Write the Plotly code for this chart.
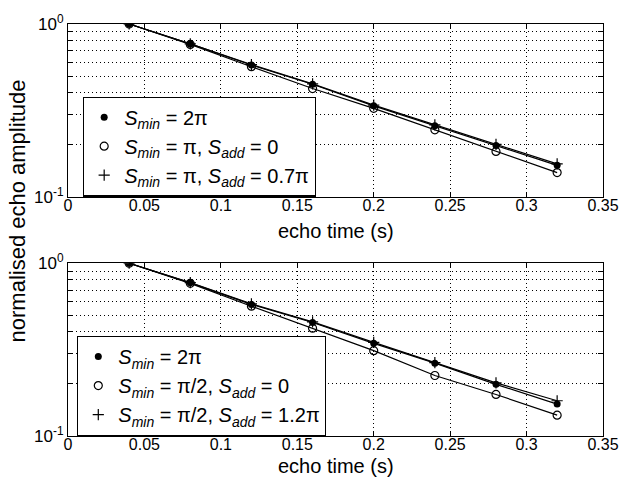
import plotly.graph_objects as go
from plotly.subplots import make_subplots

echo_time = [0.04, 0.08, 0.12, 0.16, 0.20, 0.24, 0.28, 0.32]

# top panel
top_s2pi = [1.0, 0.767, 0.579, 0.448, 0.336, 0.258, 0.198, 0.152]
top_spi_0 = [1.0, 0.762, 0.566, 0.423, 0.325, 0.244, 0.183, 0.138]
top_spi_07 = [1.0, 0.768, 0.582, 0.450, 0.339, 0.261, 0.201, 0.155]
# bottom panel
bot_s2pi = [1.0, 0.770, 0.578, 0.454, 0.344, 0.264, 0.199, 0.153]
bot_spi2_0 = [1.0, 0.765, 0.564, 0.421, 0.312, 0.224, 0.174, 0.132]
bot_spi2_12 = [1.0, 0.772, 0.582, 0.458, 0.348, 0.266, 0.203, 0.160]

top_names = ["<i>S<sub>min</sub></i> = 2π",
             "<i>S<sub>min</sub></i> = π, <i>S<sub>add</sub></i> = 0",
             "<i>S<sub>min</sub></i> = π, <i>S<sub>add</sub></i> = 0.7π"]
bot_names = ["<i>S<sub>min</sub></i> = 2π",
             "<i>S<sub>min</sub></i> = π/2, <i>S<sub>add</sub></i> = 0",
             "<i>S<sub>min</sub></i> = π/2, <i>S<sub>add</sub></i> = 1.2π"]

x_ticks = [0, 0.05, 0.1, 0.15, 0.2, 0.25, 0.3, 0.35]
x_ticktext = ["0", "0.05", "0.1", "0.15", "0.2", "0.25", "0.3", "0.35"]
y_ticks = [0.1, 0.2, 0.3, 0.4, 0.5, 0.6, 0.7, 0.8, 0.9, 1.0]
y_ticktext = ["10<sup>-1</sup>", "", "", "", "", "", "", "", "", "10<sup>0</sup>"]

FONT = "Liberation Sans, Arial, Helvetica, sans-serif"
fig = make_subplots(rows=2, cols=1, vertical_spacing=0.1614)

markers = [
    dict(symbol="circle", size=7, color="black"),
    dict(symbol="circle-open", size=8, color="black", line=dict(width=1.2, color="black")),
    dict(symbol="cross-thin-open", size=8, color="black", line=dict(width=1.2, color="black")),
]

def add_panel(row, series, names, legend):
    for ys in series:
        fig.add_trace(go.Scatter(x=echo_time, y=ys, mode="lines",
                                 line=dict(color="black", width=1.2),
                                 showlegend=False, hoverinfo="skip"), row=row, col=1)
    for ys, nm, mk in zip(series, names, markers):
        fig.add_trace(go.Scatter(x=echo_time, y=ys, mode="markers", marker=mk,
                                 name=nm, legend=legend), row=row, col=1)

add_panel(1, [top_s2pi, top_spi_0, top_spi_07], top_names, "legend")
add_panel(2, [bot_s2pi, bot_spi2_0, bot_spi2_12], bot_names, "legend2")

axis_common = dict(showline=True, linecolor="black", linewidth=1.2, mirror="ticks",
                   ticks="inside", ticklen=5, tickcolor="black",
                   showgrid=True, gridcolor="black", griddash="1px,3px", gridwidth=1,
                   zeroline=False)

for r in (1, 2):
    fig.update_xaxes(range=[0, 0.35], tickvals=x_ticks, ticktext=x_ticktext,
                     ticklabelstandoff=-6, tickfont=dict(family=FONT, size=16, color="black"),
                     row=r, col=1, **axis_common)
    fig.update_yaxes(type="log", range=[-1, 0], tickvals=y_ticks, ticktext=y_ticktext,
                     tickfont=dict(family=FONT, size=17, color="black"),
                     row=r, col=1, **axis_common)

legend_style = dict(bgcolor="white", bordercolor="black", borderwidth=1.2,
                    font=dict(family=FONT, size=20, color="black"),
                    xanchor="left", yanchor="top", tracegroupgap=0)

title_font = dict(family=FONT, size=20, color="black")
fig.update_layout(
    width=634, height=479,
    margin=dict(l=68, r=31, t=21, b=43),
    paper_bgcolor="white", plot_bgcolor="white",
    font=dict(family=FONT, color="black"),
    legend=dict(x=0.028, y=0.824, **legend_style),
    legend2=dict(x=0.017, y=0.243, **legend_style),
    annotations=[
        dict(text="normalised echo amplitude", textangle=-90,
             xref="paper", yref="paper", x=-0.0953, y=0.545,
             xanchor="center", yanchor="middle", showarrow=False,
             font=dict(family=FONT, size=22, color="black")),
        dict(text="echo time (s)", xref="paper", yref="paper", x=0.5, y=0.497,
             xanchor="center", yanchor="middle", showarrow=False, font=title_font),
        dict(text="echo time (s)", xref="paper", yref="paper", x=0.5, y=-0.0735,
             xanchor="center", yanchor="middle", showarrow=False, font=title_font),
    ],
)

fig.write_html("out.html")
